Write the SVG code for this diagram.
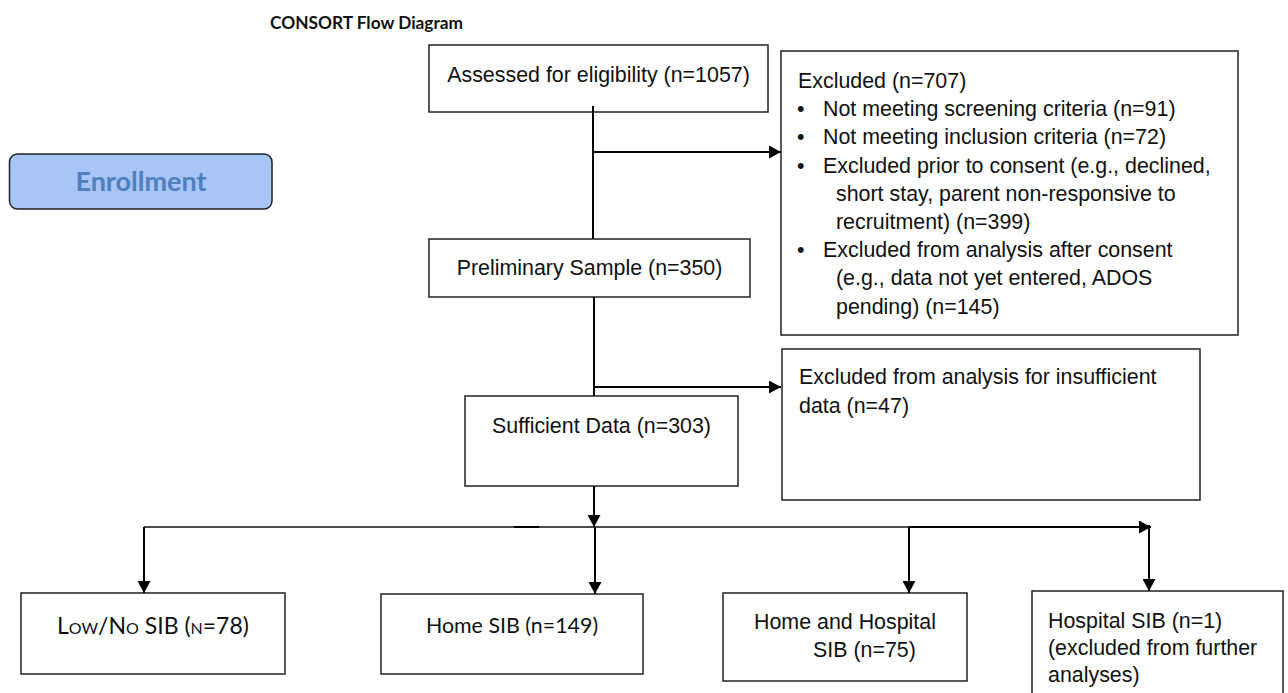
<svg xmlns="http://www.w3.org/2000/svg" width="1288" height="693" viewBox="0 0 1288 693">
<defs>
<style>
.box{fill:#fff;stroke:#222;stroke-width:1.5}
.t{font-family:"Liberation Sans",Arial,sans-serif;font-size:21.4px;fill:#111}
.c{font-family:Lato,"Open Sans",sans-serif;fill:#111}
.ln{fill:none;stroke:#000;stroke-width:2}
.thin{fill:none;stroke:#111;stroke-width:1.4}
</style>
<marker id="ah" markerUnits="userSpaceOnUse" markerWidth="13" markerHeight="13" refX="12" refY="6.5" orient="auto">
<path d="M0,0 L12,6.5 L0,13 z" fill="#000"/>
</marker>
</defs>
<rect width="1288" height="693" fill="#fff"/>
<text x="270" y="29" class="c" font-size="17.3" font-weight="bold">CONSORT Flow Diagram</text>
<g id="enrollment">
<rect x="9.5" y="154" width="262.5" height="55" rx="8" fill="#a8c5f7" stroke="#222" stroke-width="1.5"/>
<text x="141" y="191" text-anchor="middle" class="c" font-size="27" font-weight="bold" style="fill:#4f80bd">Enrollment</text>
</g>
<g id="assessed">
<rect class="box" x="429" y="45" width="339" height="67"/>
<text class="t" x="598.5" y="82" text-anchor="middle">Assessed for eligibility (n=1057)</text>
</g>
<g id="excluded1">
<rect class="box" x="781" y="51" width="457" height="284"/>
<text class="t" x="798" y="88">Excluded (n=707)</text>
<text class="t" x="797" y="116.2">•</text><text class="t" x="823" y="116.2">Not meeting screening criteria (n=91)</text>
<text class="t" x="797" y="144.4">•</text><text class="t" x="823" y="144.4">Not meeting inclusion criteria (n=72)</text>
<text class="t" x="797" y="172.6">•</text><text class="t" x="823" y="172.6">Excluded prior to consent (e.g., declined,</text>
<text class="t" x="836" y="200.8">short stay, parent non-responsive to</text>
<text class="t" x="836" y="229">recruitment) (n=399)</text>
<text class="t" x="797" y="257.2">•</text><text class="t" x="823" y="257.2">Excluded from analysis after consent</text>
<text class="t" x="836" y="285.4">(e.g., data not yet entered, ADOS</text>
<text class="t" x="836" y="313.6">pending) (n=145)</text>
</g>
<g id="preliminary">
<rect class="box" x="429" y="239" width="321" height="58"/>
<text class="t" x="589.5" y="275" text-anchor="middle">Preliminary Sample (n=350)</text>
</g>
<g id="excluded2">
<rect class="box" x="782" y="349" width="418" height="151"/>
<text class="t" x="799" y="384">Excluded from analysis for insufficient</text>
<text class="t" x="799" y="413">data (n=47)</text>
</g>
<g id="sufficient">
<rect class="box" x="465" y="396" width="273" height="90"/>
<text class="t" x="601.5" y="433" text-anchor="middle">Sufficient Data (n=303)</text>
</g>
<g id="lowno">
<rect class="box" x="21" y="593" width="264" height="81"/>
<text class="c" x="153" y="634" text-anchor="middle" font-size="23" style="font-variant:small-caps">Low/No SIB (n=78)</text>
</g>
<g id="homesib">
<rect class="box" x="381" y="594" width="262" height="80"/>
<text class="c" x="512" y="633" text-anchor="middle" font-size="21.4">Home SIB (n=149)</text>
</g>
<g id="homehospital">
<rect class="box" x="723" y="593" width="244" height="88"/>
<text class="t" x="754" y="629">Home and Hospital</text>
<text class="t" x="813" y="657">SIB (n=75)</text>
</g>
<g id="hospital">
<rect class="box" x="1032" y="591" width="251" height="110"/>
<text class="t" x="1048" y="628">Hospital SIB (n=1)</text>
<text class="t" x="1048" y="655">(excluded from further</text>
<text class="t" x="1048" y="682">analyses)</text>
</g>
<g id="connectors">
<line class="ln" x1="593" y1="106" x2="593" y2="239"/>
<line class="ln" x1="593" y1="152" x2="781" y2="152" marker-end="url(#ah)"/>
<line class="ln" x1="594" y1="297" x2="594" y2="396"/>
<line class="ln" x1="594" y1="387" x2="781" y2="387" marker-end="url(#ah)"/>
<line class="ln" x1="594" y1="486" x2="594" y2="527" marker-end="url(#ah)"/>
<line class="thin" x1="144" y1="527" x2="909" y2="527"/>
<line class="ln" x1="514" y1="527" x2="539" y2="527"/>
<line class="ln" x1="909" y1="527" x2="1151" y2="527" marker-end="url(#ah)"/>
<line class="ln" x1="144" y1="527" x2="144" y2="593" marker-end="url(#ah)"/>
<line class="ln" x1="595" y1="527" x2="595" y2="594" marker-end="url(#ah)"/>
<line class="ln" x1="909" y1="527" x2="909" y2="593" marker-end="url(#ah)"/>
<line class="ln" x1="1149" y1="525" x2="1149" y2="591" marker-end="url(#ah)"/>
</g>
</svg>
